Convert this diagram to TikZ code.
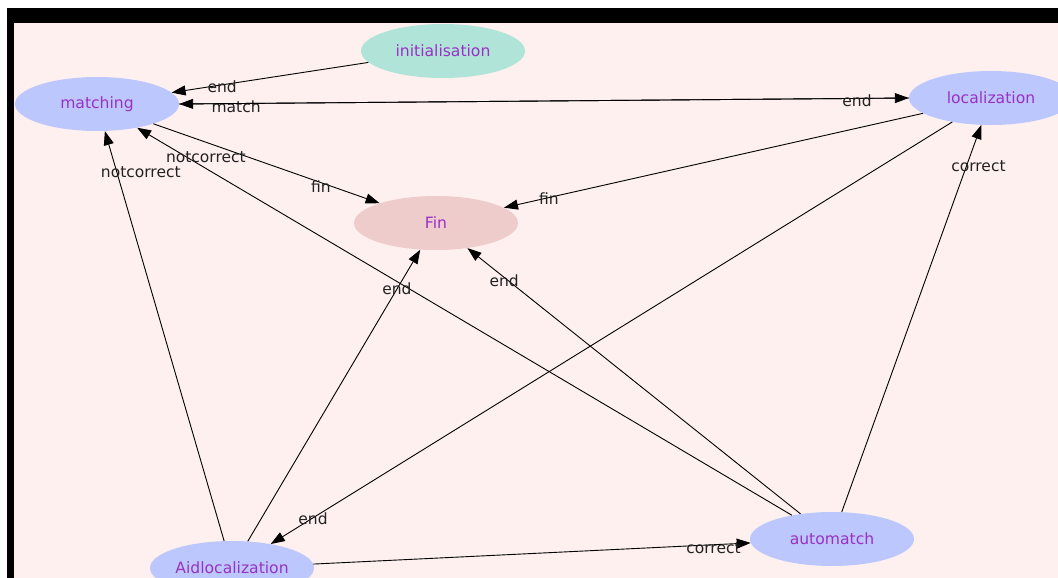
\documentclass[tikz,border=0pt]{standalone}
\usepackage{fontspec}
\setmainfont{DejaVu Sans}
\usetikzlibrary{shapes.geometric,arrows.meta}
\definecolor{canvas}{HTML}{FDF0EE}
\definecolor{statebl}{HTML}{BCC8FD}
\definecolor{statemint}{HTML}{B0E4D8}
\definecolor{statefin}{HTML}{EECCCC}
\definecolor{statetxt}{HTML}{9A30C6}
\definecolor{lbltxt}{HTML}{222222}
\tikzset{
  state/.style={ellipse, fill=statebl, draw=none, minimum width=164pt, minimum height=54pt,
    inner sep=0pt, text=statetxt, font=\fontsize{15.6}{18}\selectfont},
  trans/.style={line width=0.9pt, draw=black, -{Triangle[length=14pt,width=10pt]}},
  lbl/.style={font=\fontsize{15.5}{18}\selectfont, text=lbltxt, inner sep=0pt, anchor=center}
}
\begin{document}
\begin{tikzpicture}[x=1pt,y=-1pt]
  % page frame
  \useasboundingbox (0,0) rectangle (1058,578);
  \clip (0,0) rectangle (1058,578);
  \fill[white] (0,0) rectangle (1058,578);
  \fill[canvas] (14,23) rectangle (1058,578);
  \fill[black] (7,8) rectangle (1058,23);
  \fill[black] (7,8) rectangle (14,578);

  % states
  \node[state, fill=statemint] (init) at (443,51) {initialisation};
  \node[state] (match) at (97,104) {matching};
  \node[state] (loc) at (991,98) {localization};
  \node[state, fill=statefin] (fin) at (436,223) {Fin};
  \node[state] (aid) at (232,568) {Aidlocalization};
  \node[state] (auto) at (832,539) {automatch};

  % transitions
  \draw[trans] (init) -- node[lbl, pos=0.743, yshift=-2pt] (l1) {end} (match);
  \draw[trans] (loc.west) -- node[lbl, pos=0.922, yshift=-3pt] (l2) {match} (match.east);
  \draw[trans] (match.east) -- node[lbl, pos=0.929, yshift=-2pt] (l3) {end} (loc.west);
  \draw[trans] (match) -- node[lbl, pos=0.74, yshift=-4pt] (l4) {fin} (fin);
  \draw[trans] (loc) -- node[lbl, pos=0.893, yshift=-1pt] (l5) {fin} (fin);
  \draw[trans] (aid) -- node[lbl, pos=0.9, xshift=24pt] (l6) {notcorrect} (match);
  \draw[trans] (auto) -- node[lbl, pos=0.895, yshift=11pt] (l7) {notcorrect} (match);
  \draw[trans] (aid) -- node[lbl, pos=0.865] (l8) {end} (fin);
  \draw[trans] (auto) -- node[lbl, pos=0.89, yshift=-3pt] (l9) {end} (fin);
  \draw[trans] (loc) -- node[lbl, pos=0.938, yshift=-1pt] (l10) {end} (aid);
  \draw[trans] (aid) -- node[lbl, pos=0.915, yshift=-3pt] (l11) {correct} (auto);
  \draw[trans] (auto) -- node[lbl, pos=0.894, xshift=12pt] (l12) {correct} (loc);
\end{tikzpicture}
\end{document}
